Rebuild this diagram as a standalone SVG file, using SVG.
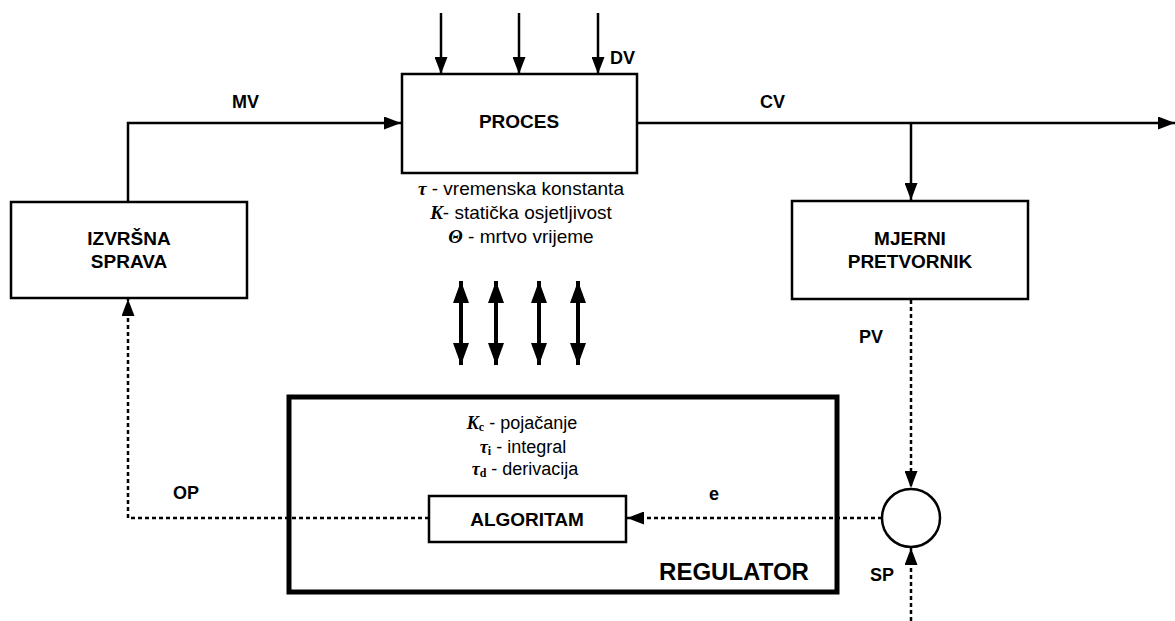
<svg xmlns="http://www.w3.org/2000/svg" width="1175" height="621" viewBox="0 0 1175 621">
<style>
.box{fill:#fff;stroke:#000;stroke-width:2.5}
.reg{fill:none;stroke:#000;stroke-width:5}
.lbl{font-family:"Liberation Sans",Arial,sans-serif;font-weight:bold;font-size:19px;text-anchor:middle;fill:#000}
.sig{font-family:"Liberation Sans",Arial,sans-serif;font-weight:bold;font-size:18px;fill:#000}
.txt{font-family:"Liberation Sans",Arial,sans-serif;font-size:19px;text-anchor:middle;fill:#000}
.txt2{font-family:"Liberation Sans",Arial,sans-serif;font-size:18px;text-anchor:middle;fill:#000}
.gr{font-family:"Liberation Serif","Times New Roman",serif;font-weight:bold;font-style:italic}
.sub{font-family:"Liberation Serif","Times New Roman",serif;font-weight:bold;font-size:12px}
.ln{fill:none;stroke:#000;stroke-width:2.5}
.dot{fill:none;stroke:#000;stroke-width:2.5;stroke-dasharray:4 3}
.dbl{fill:none;stroke:#000;stroke-width:4}
</style>
<defs>
<marker id="arr" markerUnits="userSpaceOnUse" markerWidth="17" markerHeight="13" refX="17" refY="6.5" orient="auto"><path d="M0,0 L17,6.5 L0,13 z" fill="#000"/></marker>
<marker id="big" markerUnits="userSpaceOnUse" markerWidth="22" markerHeight="16" refX="22" refY="8" orient="auto-start-reverse"><path d="M0,0 L22,8 L0,16 z" fill="#000"/></marker>
</defs>

<g id="connectors">
<line class="ln" x1="441" y1="13" x2="441" y2="74" marker-end="url(#arr)"/>
<line class="ln" x1="519" y1="13" x2="519" y2="74" marker-end="url(#arr)"/>
<line class="ln" x1="598" y1="13" x2="598" y2="74" marker-end="url(#arr)"/>
<polyline class="ln" points="128,202 128,123 401,123" marker-end="url(#arr)"/>
<line class="ln" x1="637" y1="123" x2="1175" y2="123" marker-end="url(#arr)"/>
<line class="ln" x1="911" y1="123" x2="911" y2="200" marker-end="url(#arr)"/>
<line class="dot" x1="911" y1="300" x2="911" y2="488" marker-end="url(#arr)"/>
<line class="dot" x1="911" y1="621" x2="911" y2="548" marker-end="url(#arr)"/>
<line class="dot" x1="882" y1="518" x2="627" y2="518" marker-end="url(#arr)"/>
<polyline class="dot" points="429,518 128,518 128,299" marker-end="url(#arr)"/>
<line class="dbl" x1="461" y1="281" x2="461" y2="365" marker-start="url(#big)" marker-end="url(#big)"/>
<line class="dbl" x1="496" y1="281" x2="496" y2="365" marker-start="url(#big)" marker-end="url(#big)"/>
<line class="dbl" x1="539" y1="281" x2="539" y2="365" marker-start="url(#big)" marker-end="url(#big)"/>
<line class="dbl" x1="578" y1="281" x2="578" y2="365" marker-start="url(#big)" marker-end="url(#big)"/>
<text class="sig" x="610" y="64">DV</text>
<text class="sig" x="232" y="108">MV</text>
<text class="sig" x="760" y="108">CV</text>
<text class="sig" x="859" y="343">PV</text>
<text class="sig" x="173" y="499">OP</text>
<text class="sig" x="709" y="500">e</text>
<text class="sig" x="870" y="581">SP</text>
</g>

<g id="proces">
<rect class="box" x="402" y="74" width="235" height="99"/>
<text class="lbl" x="519" y="128">PROCES</text>
<text class="txt" x="521" y="195"><tspan class="gr">τ</tspan> - vremenska konstanta</text>
<text class="txt" x="521" y="219"><tspan class="gr">K</tspan>- statička osjetljivost</text>
<text class="txt" x="521" y="243"><tspan class="gr">Θ</tspan> - mrtvo vrijeme</text>
</g>

<g id="izvrsna">
<rect class="box" x="11" y="202" width="236" height="96"/>
<text class="lbl" x="129" y="245">IZVRŠNA</text>
<text class="lbl" x="129" y="268">SPRAVA</text>
</g>

<g id="mjerni">
<rect class="box" x="792" y="201" width="236" height="98"/>
<text class="lbl" x="910" y="245">MJERNI</text>
<text class="lbl" x="910" y="268">PRETVORNIK</text>
</g>

<g id="regulator">
<rect class="reg" x="289" y="397" width="548" height="195"/>
<text class="txt2" x="522" y="429"><tspan class="gr">K</tspan><tspan class="sub" dy="2">c</tspan><tspan dy="-2"> - pojačanje</tspan></text>
<text class="txt2" x="523" y="453"><tspan class="gr">τ</tspan><tspan class="sub" dy="2">i</tspan><tspan dy="-2"> - integral</tspan></text>
<text class="txt2" x="525" y="475"><tspan class="gr">τ</tspan><tspan class="sub" dy="2">d</tspan><tspan dy="-2"> - derivacija</tspan></text>
<text x="734" y="580" font-family="Liberation Sans, Arial, sans-serif" font-weight="bold" font-size="24" text-anchor="middle">REGULATOR</text>
</g>

<g id="algoritam">
<rect class="box" x="429" y="496" width="197" height="46"/>
<text class="lbl" x="527" y="526">ALGORITAM</text>
</g>

<g id="sum">
<circle cx="911" cy="518" r="29" fill="#fff" stroke="#000" stroke-width="2.5"/>
</g>
</svg>
